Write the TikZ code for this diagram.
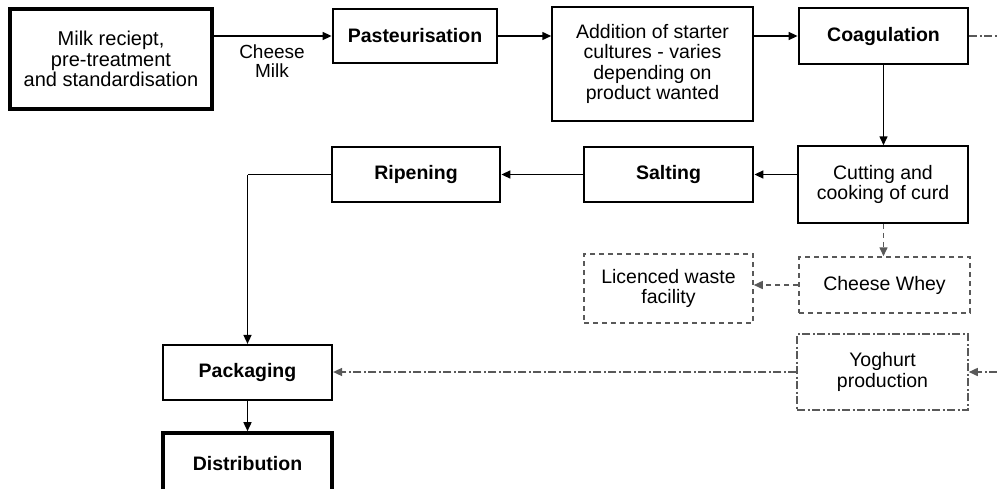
\documentclass[tikz,border=0pt]{standalone}
\usepackage{fontspec}
\setmainfont{Liberation Sans}
\usetikzlibrary{arrows.meta}
\begin{document}
\begin{tikzpicture}[x=1pt,y=-1pt,
  txt/.style={font=\fontsize{19.5}{20.5}\selectfont, align=center},
  box/.style={draw, txt, inner sep=0pt, line width=1.5pt},
  boldbox/.style={box, line width=2.8pt, font=\fontsize{19.5}{20.5}\selectfont\bfseries},
  dbox/.style={box, draw=black!65, line width=1.5pt, dash pattern=on 5pt off 4pt},
  ddbox/.style={box, draw=black!65, line width=1.5pt, dash pattern=on 8pt off 2.5pt on 2pt off 2.5pt},
  arr/.style={line width=1.5pt, -{Triangle[length=9pt,width=8pt]}},
  darr/.style={arr, draw=black!65, dash pattern=on 5pt off 4pt},
  ddarr/.style={arr, draw=black!65, dash pattern=on 8pt off 2.5pt on 2pt off 2.5pt},
  ddline/.style={line width=1.5pt, draw=black!65, dash pattern=on 8pt off 2.5pt on 2pt off 2.5pt},
]
\useasboundingbox (0,0) rectangle (997,488);
\node[boldbox, line width=3.6pt, font=\fontsize{20}{20.5}\selectfont, minimum width=202pt, minimum height=100pt] (milk) at (111,59) {Milk reciept,\\pre-treatment\\and standardisation};
\node[boldbox, minimum width=164pt, minimum height=54pt] (past) at (415,36) {Pasteurisation};
\node[box, minimum width=201pt, minimum height=114pt] (add) at (652.5,64) {Addition of starter\\cultures - varies\\depending on\\product wanted};
\node[boldbox, minimum width=169pt, minimum height=56pt] (coag) at (883.5,36) {Coagulation};
\node[box, minimum width=170pt, minimum height=77pt] (cut) at (883,184.5) {Cutting and\\cooking of curd};
\node[boldbox, minimum width=169pt, minimum height=55pt] (salt) at (668.5,174.5) {Salting};
\node[boldbox, minimum width=168pt, minimum height=55pt] (rip) at (416,174.5) {Ripening};
\node[dbox, minimum width=171pt, minimum height=56pt] (whey) at (884.5,285) {Cheese Whey};
\node[dbox, minimum width=169pt, minimum height=69pt] (waste) at (668.5,288.5) {Licenced waste\\facility};
\node[ddbox, minimum width=171pt, minimum height=76pt] (yog) at (882.5,372) {Yoghurt\\production};
\node[boldbox, line width=2.2pt, minimum width=169pt, minimum height=55pt] (pack) at (247.5,372.5) {Packaging};
\node[boldbox, line width=3.6pt, minimum width=169pt, minimum height=62pt] (dist) at (247.5,464) {Distribution};
\node[txt, font=\fontsize{19}{19}\selectfont] (cm) at (272,61) {Cheese\\Milk};
\coordinate (outR) at (997,36);
\coordinate (inR) at (997,372);
\coordinate (bend) at (247.5,174.5);
% connectors
\draw[arr] (milk.east |- past.west) -- (past.west);
\draw[arr] (past.east) -- (add.west |- past.east);
\draw[arr] (add.east |- coag.west) -- (coag.west);
\draw[arr] (coag.south) -- (coag.south |- cut.north);
\draw[arr] (cut.west |- salt.east) -- (salt.east);
\draw[arr] (salt.west) -- (rip.east);
\draw[line width=1.5pt] (rip.west) -- (bend);
\draw[arr] (bend) -- (pack.north);
\draw[arr] (pack.south) -- (dist.north);
\draw[darr] (coag.south |- cut.south) -- (coag.south |- whey.north);
\draw[darr] (whey.west) -- (waste.east |- whey.west);
\draw[ddline] (coag.east) -- (outR);
\draw[ddarr] (inR) -- (yog.east);
\draw[ddarr] (yog.west) -- (pack.east |- yog.west);
\end{tikzpicture}
\end{document}
